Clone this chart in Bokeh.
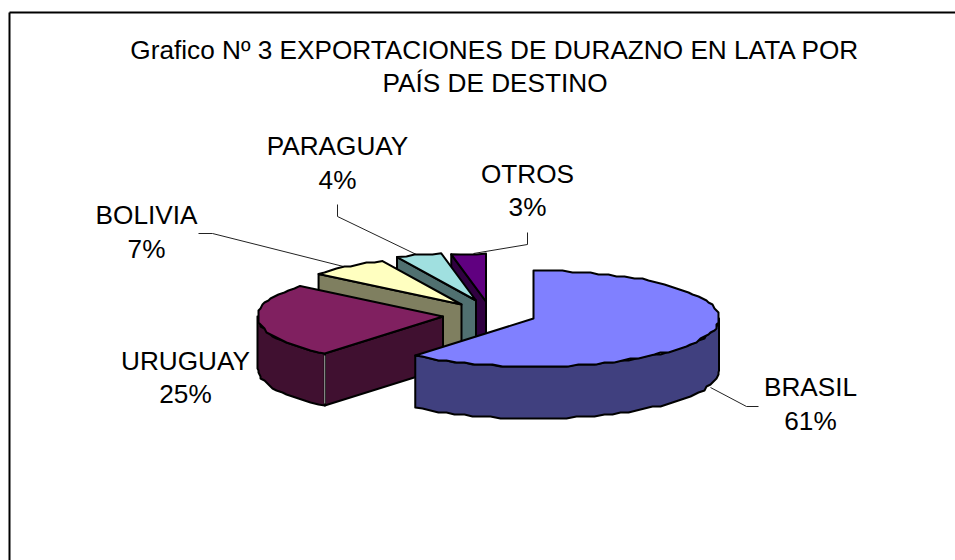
import math
from bokeh.plotting import figure
from bokeh.models import Range1d
from bokeh.core.properties import value
from bokeh.embed import file_html
from bokeh.resources import INLINE

# --- data ---
categories = ["BRASIL", "URUGUAY", "BOLIVIA", "PARAGUAY", "OTROS"]
shares = [61, 25, 7, 4, 3]
title_lines = ["Grafico Nº 3 EXPORTACIONES DE DURAZNO EN LATA POR", "PAÍS DE DESTINO"]

# --- style / layout ---
top_colors = ["#8080FF", "#802060", "#FFFFC0", "#A0E0E0", "#600080"]
wall_colors = ["#40407F", "#401030", "#7F7F60", "#507070", "#300040"]
centres = [(533, 318), (442.5, 316), (461, 304), (475.5, 300), (485.5, 301)]
label_pos = [(810, 386.5, 420.5), (185, 360.5, 393.5), (146, 214.5, 248.5), (337, 145.5, 179.5), (527, 173.5, 206.5)]
leaders = [
    [(710, 387), (746, 406), (758, 406)],
    None,
    [(198, 233), (212, 233), (343, 266)],
    [(337, 204), (337, 216), (420, 256)],
    [(527, 232), (527, 244), (473, 253)],
]
RX, RY, DEPTH = 185.5, 48, 52
FONT = "Liberation Sans"
FS = "26.2px"

W, H = 955, 560
p = figure(width=W, height=H, output_backend="svg", toolbar_location=None,
           x_range=Range1d(0, W), y_range=Range1d(H, 0),
           min_border=0, x_axis_type=None, y_axis_type=None, outline_line_color=None)
p.grid.visible = False
p.background_fill_color = "white"
p.border_fill_color = "white"

# frame: only left and top edges are visible in the picture
p.line([9, 9], [12, H], line_color="black", line_width=2)
p.line([9, W], [12, 12], line_color="black", line_width=2)


def snap(v, g=2.0):
    return round(v / g) * g


def pt(c, a):
    r = math.radians(a)
    return (c[0] + RX * math.sin(r), c[1] - RY * math.cos(r))


def arc(c, a0, a1):
    n = max(2, int(abs(a1 - a0) / 3) + 1)
    pts = []
    for i in range(n + 1):
        x, y = pt(c, a0 + (a1 - a0) * i / n)
        if 0 < i < n:
            x, y = snap(x), snap(y)
        pts.append((x, y))
    return pts


def poly(pts, fill):
    p.patch([q[0] for q in pts], [q[1] for q in pts], fill_color=fill,
            line_color="black", line_width=2, line_join="round")


# leaders
for ld in leaders:
    if ld:
        p.line([q[0] for q in ld], [q[1] for q in ld], line_color="#222222", line_width=1)

# slice angle ranges from the values (clockwise from 12 o'clock)
total = sum(shares)
angles, acc = [], 0.0
for s in shares:
    angles.append((acc * 360 / total, (acc + s) * 360 / total))
    acc += s

# back to front
for i in range(len(shares) - 1, -1, -1):
    a0, a1 = angles[i]
    c = centres[i]
    top = arc(c, a0, a1)
    # cut face at the start angle (not visible for the first slice)
    if i > 0:
        s = pt(c, a0)
        poly([c, s, (s[0], s[1] + DEPTH), (c[0], c[1] + DEPTH)], wall_colors[i])
    # outer curved wall, front half only
    w0, w1 = max(a0, 90), min(a1, 270)
    if w1 > w0:
        wa = arc(c, w0, w1)
        poly(wa + [(x, y + DEPTH) for x, y in reversed(wa)], wall_colors[i])
    if i == 1:
        s = pt(c, a0)
        p.line([s[0], s[0]], [s[1] + 2, s[1] + DEPTH - 2], line_color="#B0B0B0", line_width=1)
    poly([c] + top, top_colors[i])

# labels
for cat, s, (x, y1, y2) in zip(categories, shares, label_pos):
    p.text([x, x], [y1, y2], text=[cat, f"{s}%"], text_align="center", text_baseline="middle",
           text_font=value(FONT), text_font_size=FS, text_color="black")
p.text([494.5, 494.5], [49, 82], text=title_lines, text_align="center", text_baseline="middle",
       text_font=value(FONT), text_font_size=FS, text_color="black")

open("out.html", "w").write(file_html(p, INLINE))
